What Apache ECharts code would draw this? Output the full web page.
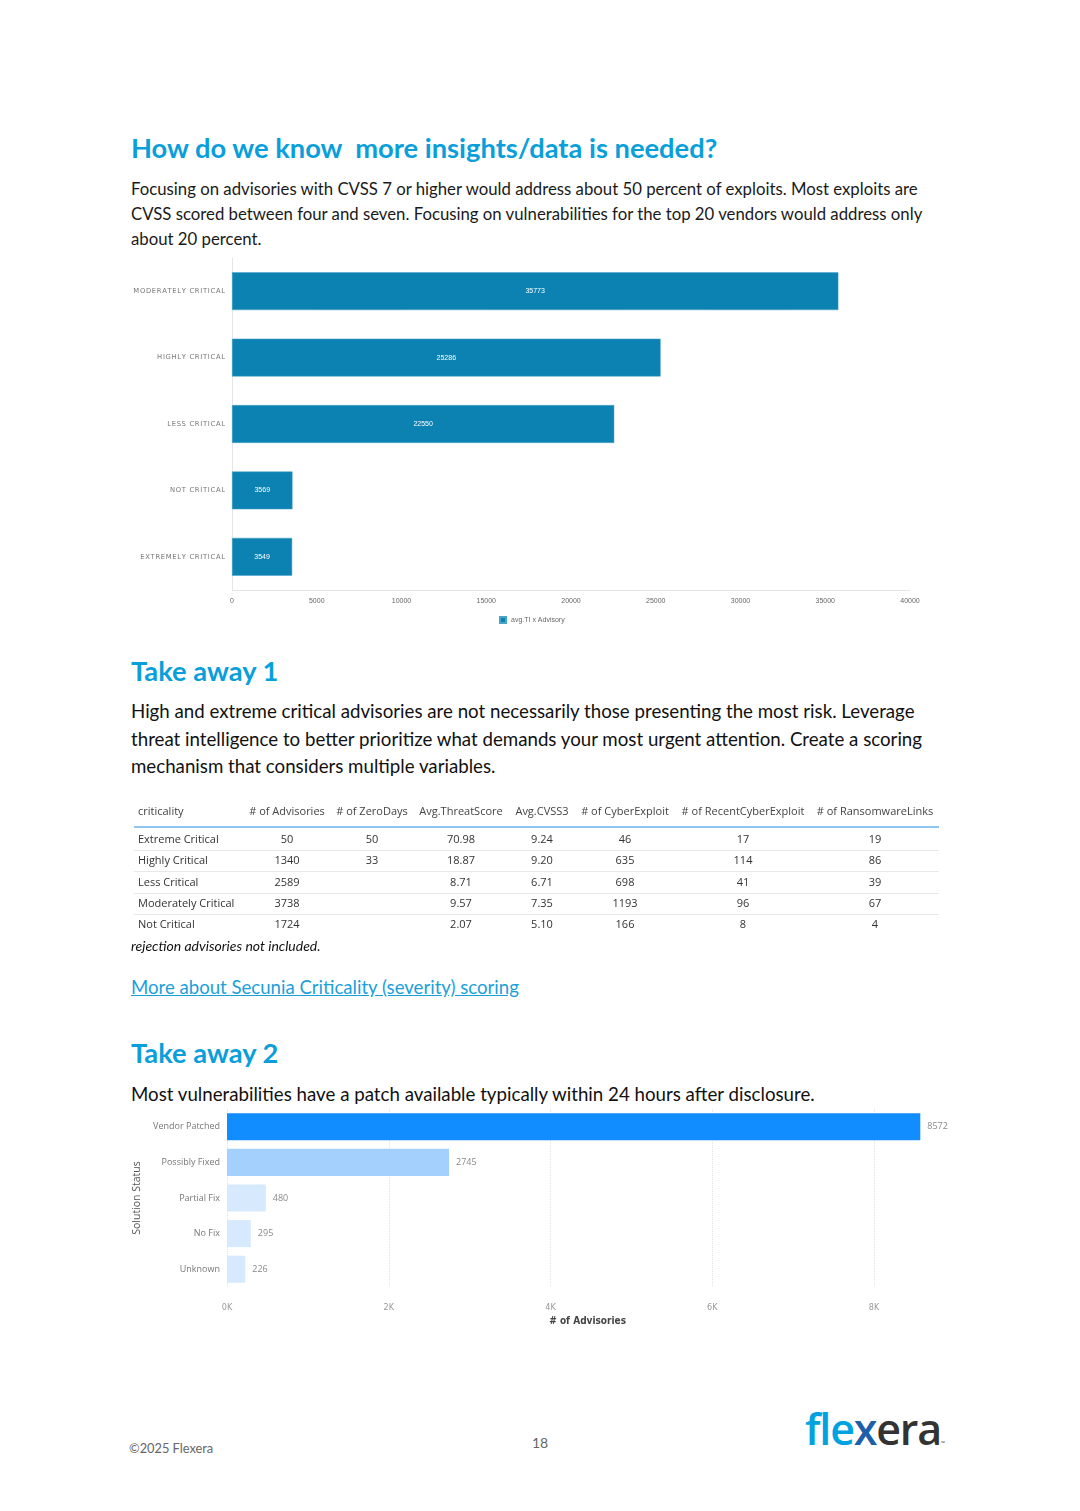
<!DOCTYPE html>
<html><head><meta charset="utf-8">
<script src="https://cdn.jsdelivr.net/npm/echarts@6/dist/echarts.min.js"></script>
<style>
html,body{margin:0;padding:0;background:#fff;}
#page{position:relative;width:1080px;height:1511px;overflow:hidden;font-family:Lato,"Open Sans",sans-serif;color:#222;}
.abs{position:absolute;white-space:nowrap;}
.h{color:#0a9fdb;font-weight:700;font-size:27.3px;line-height:30px;left:131px;}
.p{font-size:16.75px;line-height:25px;left:131px;color:#1a1a1a;}
.p2{font-size:18.7px;line-height:27.5px;left:131px;color:#111;}
.tb{font-family:"Open Sans","Noto Sans",sans-serif;font-size:11px;color:#333;}
.tb div{position:absolute;white-space:nowrap;line-height:14px;}
</style></head>
<body><div id="page">
<div class="abs h" style="top:133px">How do we know &nbsp;more insights/data is needed?</div>
<div class="abs p" style="top:175.5px">Focusing on advisories with CVSS 7 or higher would address about 50 percent of exploits. Most exploits are<br>CVSS scored between four and seven. Focusing on vulnerabilities for the top 20 vendors would address only<br>about 20 percent.</div>
<div id="c1" class="abs" style="left:0;top:250px;width:1080px;height:390px"></div>
<div class="abs h" style="top:656px">Take away 1</div>
<div class="abs p2" style="top:698px">High and extreme critical advisories are not necessarily those presenting the most risk. Leverage<br>threat intelligence to better prioritize what demands your most urgent attention. Create a scoring<br>mechanism that considers multiple variables.</div>
<div id="tbl" class="abs tb" style="left:0;top:0;width:1080px;height:960px"></div>
<div class="abs" style="left:131px;top:938px;font-size:14px;line-height:16px;font-style:italic;color:#111">rejection advisories not included.</div>
<div class="abs" style="left:131px;top:975px;font-size:18.6px;line-height:24px;color:#1a9fdb;text-decoration:underline">More about Secunia Criticality (severity) scoring</div>
<div class="abs h" style="top:1038px">Take away 2</div>
<div class="abs p2" style="top:1082px;line-height:24px">Most vulnerabilities have a patch available typically within 24 hours after disclosure.</div>
<div id="c2" class="abs" style="left:0;top:1101px;width:1080px;height:240px"></div>
<div class="abs" style="left:129px;top:1440px;font-size:12.8px;line-height:16px;color:#666">©2025 Flexera</div>
<div class="abs" style="left:532px;top:1434px;font-size:14px;line-height:18px;color:#666">18</div>
<div class="abs" style="left:805px;top:1404px;font-family:'Open Sans',sans-serif;font-size:43px;line-height:50px;font-weight:600;letter-spacing:-1.2px"><span style="color:#00a3e0">fle</span><span style="color:#1d5fa8">x</span><span style="color:#333">era</span><span style="font-size:5px;color:#333;letter-spacing:0">™</span></div>
</div>
<script>
// ---- Chart 1 data ----
var critCategories = ["Moderately Critical","Highly Critical","Less Critical","Not Critical","Extremely Critical"];
var avgTIxAdvisory = [35773, 25286, 22550, 3569, 3549];
var chart1Legend = "avg.TI x Advisory";

// ---- Table data ----
var tableHeaders = ["criticality","# of Advisories","# of ZeroDays","Avg.ThreatScore","Avg.CVSS3","# of CyberExploit","# of RecentCyberExploit","# of RansomwareLinks"];
var tableCriticality = ["Extreme Critical","Highly Critical","Less Critical","Moderately Critical","Not Critical"];
var tableAdvisories = [50, 1340, 2589, 3738, 1724];
var tableZeroDays = [50, 33, "", "", ""];
var tableThreatScore = ["70.98","18.87","8.71","9.57","2.07"];
var tableCVSS3 = ["9.24","9.20","6.71","7.35","5.10"];
var tableCyberExploit = [46, 635, 698, 1193, 166];
var tableRecentCyberExploit = [17, 114, 41, 96, 8];
var tableRansomwareLinks = [19, 86, 39, 67, 4];

// ---- Chart 2 data ----
var solutionStatus = ["Vendor Patched","Possibly Fixed","Partial Fix","No Fix","Unknown"];
var advisoryCounts = [8572, 2745, 480, 295, 226];
var chart2Ticks = [0, 2000, 4000, 6000, 8000];

// build table
(function(){
  var t = document.getElementById('tbl');
  var colCenters = [null, 287, 372, 461, 542, 625, 743, 875];
  var headY = 811, rowY = [839, 860, 882, 903, 924];
  function add(txt, cx, cy, left, color){
    var d = document.createElement('div');
    d.textContent = txt;
    d.style.top = (cy - 7) + 'px';
    if (left) { d.style.left = '138px'; }
    else { d.style.left = (cx - 100) + 'px'; d.style.width = '200px'; d.style.textAlign = 'center'; }
    if (color) d.style.color = color;
    t.appendChild(d);
  }
  tableHeaders.forEach(function(h, i){ add(h, colCenters[i], headY, i === 0, '#444'); });
  var cols = [tableCriticality, tableAdvisories, tableZeroDays, tableThreatScore, tableCVSS3, tableCyberExploit, tableRecentCyberExploit, tableRansomwareLinks];
  for (var r = 0; r < tableCriticality.length; r++) {
    cols.forEach(function(c, i){ add(String(c[r]), colCenters[i], rowY[r], i === 0); });
  }
  var hl = document.createElement('div');
  hl.style.cssText = 'left:134px;top:826px;width:805px;height:2px;background:#8fc3f0;';
  t.appendChild(hl);
  [849.5, 870.5, 892.5, 913.5].forEach(function(y){
    var l = document.createElement('div');
    l.style.cssText = 'left:134px;top:' + y + 'px;width:805px;height:1px;background:#e8e8e8;';
    t.appendChild(l);
  });
})();

var c1 = echarts.init(document.getElementById('c1'));
c1.setOption({
  animation: false,
  grid: { left: 232, right: 170, top: 8, bottom: 50, containLabel: false },
  legend: { data: [chart1Legend], top: 361, left: 494, icon: 'rect', itemWidth: 6, itemHeight: 6, itemGap: 4,
    textStyle: { fontSize: 7, color: '#666', fontFamily: 'Liberation Sans, sans-serif' } },
  xAxis: { type: 'value', min: 0, max: 40000, interval: 5000,
    axisLine: { show: true, lineStyle: { color: '#e6e6e6' } }, axisTick: { show: false },
    splitLine: { show: false },
    axisLabel: { fontSize: 7, color: '#666', margin: 8, fontFamily: 'Liberation Sans, sans-serif',
      formatter: function(v){ return String(v); } } },
  yAxis: { type: 'category', inverse: true, data: critCategories,
    axisLine: { show: true, lineStyle: { color: '#e6e6e6' } }, axisTick: { show: false },
    axisLabel: { fontSize: 6.8, color: '#777', margin: 7, fontFamily: 'DejaVu Sans, sans-serif',
      formatter: function(v){ return v.toUpperCase().split('').join('\u200A'); } } },
  series: [{ name: chart1Legend, type: 'bar', data: avgTIxAdvisory, barCategoryGap: '43%',
    itemStyle: { color: '#0b82b1', borderColor: '#4aa3c9', borderWidth: 0.5 },
    label: { show: true, position: 'inside', color: '#fff', fontSize: 7, fontFamily: 'Liberation Sans, sans-serif' } }]
});

var colors2 = ['#118dff', '#a3d0fc', '#d7eafd', '#d7eafd', '#d7eafd'];
var c2 = echarts.init(document.getElementById('c2'));
c2.setOption({
  animation: false,
  grid: { left: 227, right: 159.7, top: 8, bottom: 54, containLabel: false },
  xAxis: { type: 'value', min: 0, max: function(v){ return v.max; }, interval: 2000,
    name: '# of Advisories', nameLocation: 'middle', nameGap: 29,
    nameTextStyle: { fontSize: 10, color: '#444', fontWeight: 'bold', padding: [0,0,0,28], fontFamily: 'DejaVu Sans Condensed, sans-serif' },
    axisLine: { show: false }, axisTick: { show: false },
    splitLine: { show: false },
    axisLabel: { fontSize: 9, color: '#999', margin: 16, showMaxLabel: false, fontFamily: 'DejaVu Sans Condensed, sans-serif',
      formatter: function(v){ return (v/1000) + 'K'; } } },
  yAxis: { type: 'category', inverse: true, data: solutionStatus,
    name: 'Solution Status', nameLocation: 'middle', nameGap: 84, nameRotate: 90,
    nameTextStyle: { fontSize: 10.5, color: '#555', fontFamily: 'Open Sans, sans-serif' },
    axisLine: { show: false }, axisTick: { show: false },
    axisLabel: { fontSize: 9, color: '#777', margin: 7, fontFamily: 'Open Sans, sans-serif' } },
  series: [{ type: 'bar', barCategoryGap: '24%', z: 3,
    data: advisoryCounts.map(function(v, i){ return { value: v, itemStyle: { color: colors2[i] } }; }),
    label: { show: true, position: 'right', distance: 7, color: '#888', fontSize: 9, fontFamily: 'Open Sans, sans-serif' },
    markLine: { silent: true, symbol: 'none', z: 1, label: { show: false },
      lineStyle: { color: '#e2e2e2', type: 'dotted', width: 1 },
      data: chart2Ticks.map(function(t){ return { xAxis: t }; }) } }]
});
</script>
</body></html>
